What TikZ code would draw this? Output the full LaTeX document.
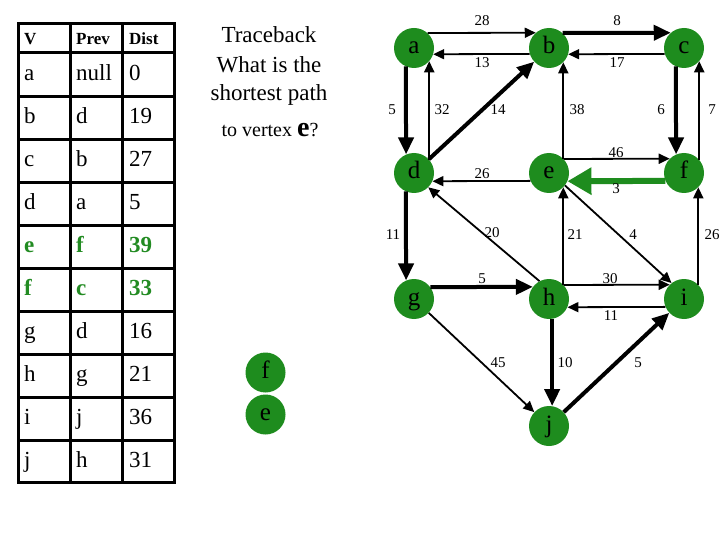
\documentclass[tikz,border=0pt]{standalone}
\usepackage{fontspec}
\setmainfont{Liberation Serif}
\usetikzlibrary{arrows.meta}
\definecolor{ngreen}{RGB}{30,140,30}
\definecolor{tgreen}{RGB}{34,139,34}
\begin{document}
\begin{tikzpicture}[x=1pt,y=-1pt,
  vtx/.style={circle,fill=ngreen,minimum size=40pt,inner sep=0pt,text height=17pt,text depth=5pt,font=\fontsize{25}{25}\selectfont},
  lite/.style={line width=1.8pt,-{Triangle[length=11pt,width=10pt]}},
  heavy/.style={line width=4pt,-{Triangle[length=17pt,width=15pt]}},
  greenarrow/.style={draw=ngreen,line width=6pt,-{Triangle[length=24pt,width=26pt]}},
  wt/.style={font=\fontsize{15}{15}\selectfont,inner sep=0pt},
  cell/.style={anchor=base west,inner sep=0pt,font=\fontsize{23}{23}\selectfont},
  hcell/.style={anchor=base west,inner sep=0pt,font=\fontsize{17}{17}\selectfont\bfseries},
  gcell/.style={anchor=base west,inner sep=0pt,text=tgreen,font=\fontsize{23}{23}\selectfont\bfseries},
  qline/.style={anchor=base,inner sep=0pt,font=\fontsize{23}{23}\selectfont},
]
\fill[white] (0,0) rectangle (720,540);
\useasboundingbox (0,0) rectangle (720,540);

% ---- table ----
\draw[line width=3pt] (18,24) rectangle (174,482.5);
\draw[line width=3pt] (70,24) -- (70,482.5) (122,24) -- (122,482.5) (18,52.5) -- (174,52.5);
\foreach \k in {0,...,8} \draw[line width=3pt] (18,96.5+43*\k) -- (174,96.5+43*\k);
\node[hcell] (hv) at (24,45) {V};
\node[hcell] (hp) at (76,45) {Prev};
\node[hcell] (hd) at (129,45) {Dist};
\foreach \v/\p/\d/\k in {a/null/0/0,b/d/19/1,c/b/27/2,d/a/5/3,g/d/16/6,h/g/21/7,i/j/36/8,j/h/31/9}{
  \node[cell] (rv\k) at (24,80.5+43*\k) {\v};
  \node[cell] (rp\k) at (76,80.5+43*\k) {\p};
  \node[cell] (rd\k) at (129,80.5+43*\k) {\d};
}
\foreach \v/\p/\d/\k in {e/f/39/4,f/c/33/5}{
  \node[gcell] (rv\k) at (24,80.5+43*\k) {\v};
  \node[gcell] (rp\k) at (76,80.5+43*\k) {\p};
  \node[gcell] (rd\k) at (129,80.5+43*\k) {\d};
}

% ---- question ----
\node[qline] (q1) at (269,43) {Traceback};
\node[qline] (q2) at (269,73) {What is the};
\node[qline] (q3) at (269,101) {shortest path};
\node[anchor=base,inner sep=0pt,font=\fontsize{20}{20}\selectfont] (q4) at (270,137) {to vertex {\fontsize{28}{28}\selectfont\bfseries e}?};

% ---- path so far ----
\node[vtx] (pf) at (265.5,372.5) {f};
\node[vtx] (pe) at (265.5,414.5) {e};

% ---- graph ----
\node[vtx] (a) at (414,48) {a};
\node[vtx] (b) at (549,48) {b};
\node[vtx] (c) at (684,48) {c};
\node[vtx] (d) at (414,173) {d};
\node[vtx] (e) at (549,173) {e};
\node[vtx] (f) at (684,173) {f};
\node[vtx] (g) at (414,299) {g};
\node[vtx] (h) at (549,299) {h};
\node[vtx] (i) at (684,299) {i};
\node[vtx] (j) at (549,426) {j};

% horizontal
\draw[lite] (a.48.6) -- (b.131.4);
\draw[lite] (b.197.5) -- (a.342.5);
\draw[heavy] (b.48.6) -- (c.131.4);
\draw[lite] (c.197.5) -- (b.342.5);
\draw[lite] (e.44.4) -- (f.135.6);
\draw[greenarrow] (f.203.6) -- (e.336.4);
\draw[lite] (e.203.6) -- (d.336.4);
\draw[heavy] (g.36.9) -- (h.143.1);
\draw[lite] (h.44.4) -- (i.135.6);
\draw[lite] (i.203.6) -- (h.336.4);
% vertical
\draw[heavy] (a.246.4) -- (d.113.6);
\draw[lite] (d.41.4) -- (a.-41.4);
\draw[lite] (e.45.6) -- (b.-45.6);
\draw[heavy] (c.246.4) -- (f.113.6);
\draw[lite] (f.41.4) -- (c.-41.4);
\draw[heavy] (d.246.4) -- (g.113.6);
\draw[lite] (h.45.6) -- (e.-45.6);
\draw[lite] (i.45.6) -- (f.-45.6);
\draw[heavy] (h.-81.4) -- (j.81.4);
% diagonal
\draw[heavy] (d) -- (b);
\draw[lite] (h.118) -- (d.-45);
\draw[lite] (e.-38) -- (i.128);
\draw[lite] (g) -- (j);
\draw[heavy] (j) -- (i);

% weights
\node[wt] (w1) at (482,21) {28};
\node[wt] (w2) at (482,63) {13};
\node[wt] (w3) at (617,21) {8};
\node[wt] (w4) at (617,63) {17};
\node[wt] (w5) at (392,110) {5};
\node[wt] (w6) at (442,110) {32};
\node[wt] (w7) at (498,110) {14};
\node[wt] (w8) at (577,110) {38};
\node[wt] (w9) at (661,110) {6};
\node[wt] (w10) at (712,110) {7};
\node[wt] (w11) at (616,153) {46};
\node[wt] (w12) at (482,174) {26};
\node[wt] (w13) at (616,189) {3};
\node[wt] (w14) at (393,235) {11};
\node[wt] (w15) at (492,233) {20};
\node[wt] (w16) at (575,235) {21};
\node[wt] (w17) at (633,235) {4};
\node[wt] (w18) at (712,235) {26};
\node[wt] (w19) at (482,279) {5};
\node[wt] (w20) at (610,279) {30};
\node[wt] (w21) at (611,316) {11};
\node[wt] (w22) at (498,363) {45};
\node[wt] (w23) at (565,363) {10};
\node[wt] (w24) at (638,363) {5};
\end{tikzpicture}
\end{document}
